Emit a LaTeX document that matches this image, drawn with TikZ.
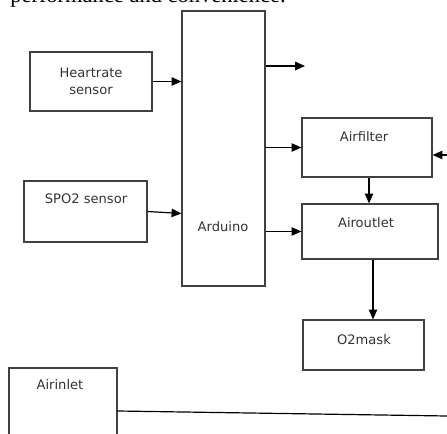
\documentclass[tikz,border=0pt]{standalone}
\usepackage{fontspec}
\setmainfont{DejaVu Sans}
\newfontfamily\pageserif{Liberation Serif}
\usepackage{tikz}
\usetikzlibrary{arrows.meta}

\tikzset{
  blk/.style={draw=black!75, line width=0.85pt, rectangle, inner sep=0pt,
    font=\fontsize{9.3}{11.5}\selectfont},
  txt/.style={font=\fontsize{9.3}{11.5}\selectfont, inner sep=0pt, black!80},
  wire/.style={line width=0.85pt, black}
}

\begin{document}
\begin{tikzpicture}[>={Triangle[length=7pt,width=6pt]}]
\useasboundingbox (0,0) rectangle (11.175,10.825);
\clip (0,0) rectangle (11.175,10.825);
% cut-off line of the page text above the figure
\node [anchor=base west, inner sep=0pt, font=\pageserif\fontsize{16}{18}\selectfont] (page) at (0.25,10.77) {performance and convenience.};
% blocks
\node [blk, minimum width=3.05cm, minimum height=1.475cm, align=center, text=black!80] (heart) at (2.275,8.7875) {Heartrate\\[1pt]sensor};
\node [blk, minimum width=3.075cm, minimum height=1.525cm] (spo) at (2.1375,5.5375) {};
\node [txt] (spolbl) at (2.15,5.85) {SPO2 sensor};
\node [blk, minimum width=2.075cm, minimum height=6.875cm] (ard) at (5.5875,7.1125) {};
\node [txt] (ardlbl) at (5.575,5.15) {Arduino};
\node [blk, minimum width=3.25cm, minimum height=1.475cm] (filter) at (9.175,7.1375) {};
\node [txt] (filterlbl) at (9.1,7.4) {Airfilter};
\node [blk, minimum width=3.4cm, minimum height=1.375cm] (outlet) at (9.25,5.0375) {};
\node [txt] (outletlbl) at (9.15,5.25) {Airoutlet};
\node [blk, minimum width=3.025cm, minimum height=1.25cm] (mask) at (9.0875,2.2) {};
\node [txt] (masklbl) at (9.1,2.325) {O2mask};
\node [blk, minimum width=2.7cm, minimum height=2.3cm] (inlet) at (1.575,0.475) {};
\node [txt] (inletlbl) at (1.5,1.2) {Airinlet};
% free ends
\coordinate (spare) at (7.625,9.175);
\coordinate (feed) at (11.175,6.95);
\coordinate (pipe) at (11.175,0.425);
% connectors
\draw[wire,->] (heart.east) -- (heart.east -| ard.west);
\draw[wire,->] (spo.east) -- ([yshift=-0.05cm]spo.east -| ard.west);
\draw[wire,->] (spare -| ard.east) -- (spare);
\draw[wire,->] (filter.west -| ard.east) -- (filter.west);
\draw[wire,->] (outlet.west -| ard.east) -- (outlet.west);
\draw[wire,->] (feed) -- (feed -| filter.east);
\draw[wire,->] ([xshift=0.05cm]filter.south) -- ([xshift=0.05cm]filter.south |- outlet.north);
\draw[wire,->] ([xshift=0.075cm]outlet.south) -- ([xshift=0.075cm]outlet.south |- mask.north);
\draw[wire] ([yshift=0.075cm]inlet.east) -- (pipe);
\end{tikzpicture}
\end{document}
